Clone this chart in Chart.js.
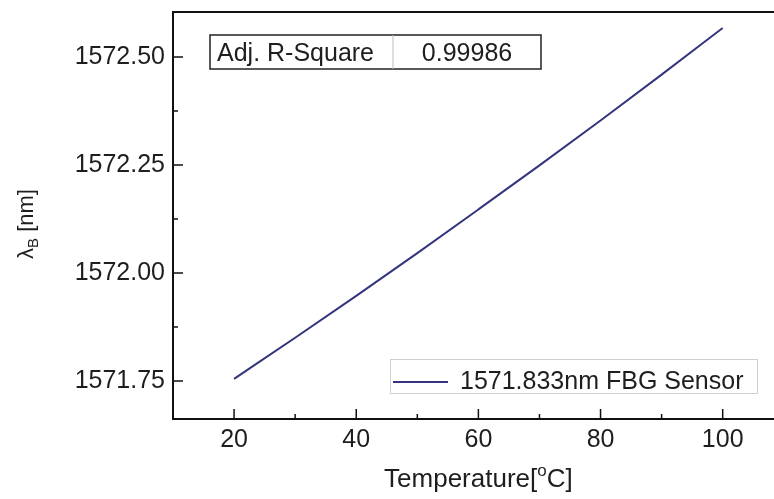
<!DOCTYPE html>
<html>
<head>
<meta charset="utf-8">
<script src="https://cdn.jsdelivr.net/npm/chart.js@4.4.1/dist/chart.umd.min.js"></script>
<style>
  html, body { margin: 0; padding: 0; background: #fff; overflow: hidden; }
  canvas { display: block; }
</style>
</head>
<body>
<canvas id="myChart" width="774" height="499"></canvas>
<script>
const temperatures = [20, 30, 40, 50, 60, 70, 80, 90, 100];
const wavelengths = [1571.755, 1571.850, 1571.947, 1572.046, 1572.147, 1572.249, 1572.353, 1572.459, 1572.567];
const xTicks = [20, 40, 60, 80, 100];
const yTicks = [1571.75, 1572.00, 1572.25, 1572.50];
const seriesLabel = '1571.833nm FBG Sensor';
const fitLabel = 'Adj. R-Square';
const fitValue = '0.99986';

const FONT = '"Liberation Sans", Arial, sans-serif';
const INK = '#1e1e1e';
const LINE = '#34347e';

function midpoints(arr) {
  const out = [];
  for (let i = 0; i < arr.length - 1; i++) out.push((arr[i] + arr[i + 1]) / 2);
  return out;
}

const framePlugin = {
  id: 'framePlugin',
  afterDraw(chart) {
    const ctx = chart.ctx;
    const a = chart.chartArea;
    const xs = chart.scales.x;
    const ys = chart.scales.y;
    ctx.save();

    // frame (right side is cropped off in the original)
    ctx.strokeStyle = '#111';
    ctx.lineWidth = 2;
    ctx.beginPath();
    ctx.moveTo(chart.width, a.top);
    ctx.lineTo(a.left, a.top);
    ctx.lineTo(a.left, a.bottom);
    ctx.lineTo(chart.width, a.bottom);
    ctx.stroke();

    // inward ticks
    ctx.lineWidth = 1.5;
    ctx.beginPath();
    const xMinor = midpoints(xTicks).concat([xTicks[0] - 10, xTicks[xTicks.length - 1] + 10]);
    xTicks.forEach(v => { const p = xs.getPixelForValue(v); ctx.moveTo(p, a.bottom); ctx.lineTo(p, a.bottom - 10); });
    xMinor.forEach(v => {
      if (v <= xs.min || v >= xs.max) return;
      const p = xs.getPixelForValue(v); ctx.moveTo(p, a.bottom); ctx.lineTo(p, a.bottom - 5);
    });
    const yMinor = midpoints(yTicks);
    yTicks.forEach(v => { const p = ys.getPixelForValue(v); ctx.moveTo(a.left, p); ctx.lineTo(a.left + 10, p); });
    yMinor.forEach(v => { const p = ys.getPixelForValue(v); ctx.moveTo(a.left, p); ctx.lineTo(a.left + 5, p); });
    ctx.stroke();

    // Adj. R-Square box
    ctx.lineWidth = 1.5;
    ctx.strokeStyle = '#222';
    ctx.strokeRect(210, 35, 331, 34);
    ctx.lineWidth = 1;
    ctx.strokeStyle = '#bbb';
    ctx.beginPath(); ctx.moveTo(393, 35); ctx.lineTo(393, 69); ctx.stroke();
    ctx.fillStyle = INK;
    ctx.font = '25px ' + FONT;
    ctx.textBaseline = 'alphabetic';
    ctx.textAlign = 'left';
    ctx.fillText(fitLabel, 217, 61);
    ctx.textAlign = 'center';
    ctx.fillText(fitValue, 467, 61);

    // legend
    ctx.strokeStyle = '#cfcfcf';
    ctx.lineWidth = 1;
    ctx.strokeRect(390.5, 359.5, 367, 34);
    ctx.strokeStyle = LINE;
    ctx.lineWidth = 2;
    ctx.beginPath(); ctx.moveTo(393, 382); ctx.lineTo(448, 382); ctx.stroke();
    ctx.textAlign = 'left';
    ctx.fillText(seriesLabel, 460, 389);

    // x title
    ctx.font = '26px ' + FONT;
    const t1 = 'Temperature[';
    const t2 = 'o';
    const t3 = 'C]';
    const w1 = ctx.measureText(t1).width;
    const w3 = ctx.measureText(t3).width;
    ctx.font = '17px ' + FONT;
    const w2 = ctx.measureText(t2).width;
    const total = w1 + w2 + w3;
    let x0 = xs.getPixelForValue(60) - total / 2;
    ctx.font = '26px ' + FONT;
    ctx.fillText(t1, x0, 487);
    ctx.font = '17px ' + FONT;
    ctx.fillText(t2, x0 + w1, 476);
    ctx.font = '26px ' + FONT;
    ctx.fillText(t3, x0 + w1 + w2, 487);

    // y title, rotated
    ctx.translate(33, 224);
    ctx.rotate(-Math.PI / 2);
    ctx.font = '22px ' + FONT;
    const s1 = '\u03bb';
    const s3 = ' [nm]';
    const v1 = ctx.measureText(s1).width;
    const v3 = ctx.measureText(s3).width;
    ctx.font = '15px ' + FONT;
    const v2 = ctx.measureText('B').width;
    let y0 = -(v1 + v2 + v3) / 2;
    ctx.font = '22px ' + FONT;
    ctx.fillText(s1, y0, 0);
    ctx.font = '15px ' + FONT;
    ctx.fillText('B', y0 + v1, 5);
    ctx.font = '22px ' + FONT;
    ctx.fillText(s3, y0 + v1 + v2, 0);

    ctx.restore();
  }
};

const ctx = document.getElementById('myChart');

new Chart(ctx, {
  type: 'line',
  data: {
    datasets: [{
      label: seriesLabel,
      data: temperatures.map((t, i) => ({ x: t, y: wavelengths[i] })),
      borderColor: LINE,
      borderWidth: 2,
      pointRadius: 0,
      fill: false,
      cubicInterpolationMode: 'monotone'
    }]
  },
  options: {
    responsive: false,
    animation: false,
    devicePixelRatio: 1,
    layout: { padding: { top: 12, right: 0, left: 0, bottom: 0 } },
    plugins: {
      legend: { display: false },
      tooltip: { enabled: false }
    },
    scales: {
      x: {
        type: 'linear',
        min: 10,
        max: 108.4,
        afterBuildTicks: s => { s.ticks = xTicks.map(v => ({ value: v })); },
        afterFit: s => { s.height = 80; s.paddingLeft = 0; s.paddingRight = 0; },
        grid: { display: false, drawTicks: false },
        border: { display: false },
        ticks: {
          color: INK,
          font: { family: FONT, size: 25 },
          padding: 6,
          maxRotation: 0,
          autoSkip: false
        }
      },
      y: {
        type: 'linear',
        min: 1571.662,
        max: 1572.604,
        afterBuildTicks: s => { s.ticks = yTicks.map(v => ({ value: v })); },
        afterFit: s => { s.width = 173; s.paddingTop = 0; s.paddingBottom = 0; },
        grid: { display: false, drawTicks: false },
        border: { display: false },
        ticks: {
          color: INK,
          font: { family: FONT, size: 25 },
          padding: 8,
          callback: v => Number(v).toFixed(2)
        }
      }
    }
  },
  plugins: [framePlugin]
});
</script>
</body>
</html>
